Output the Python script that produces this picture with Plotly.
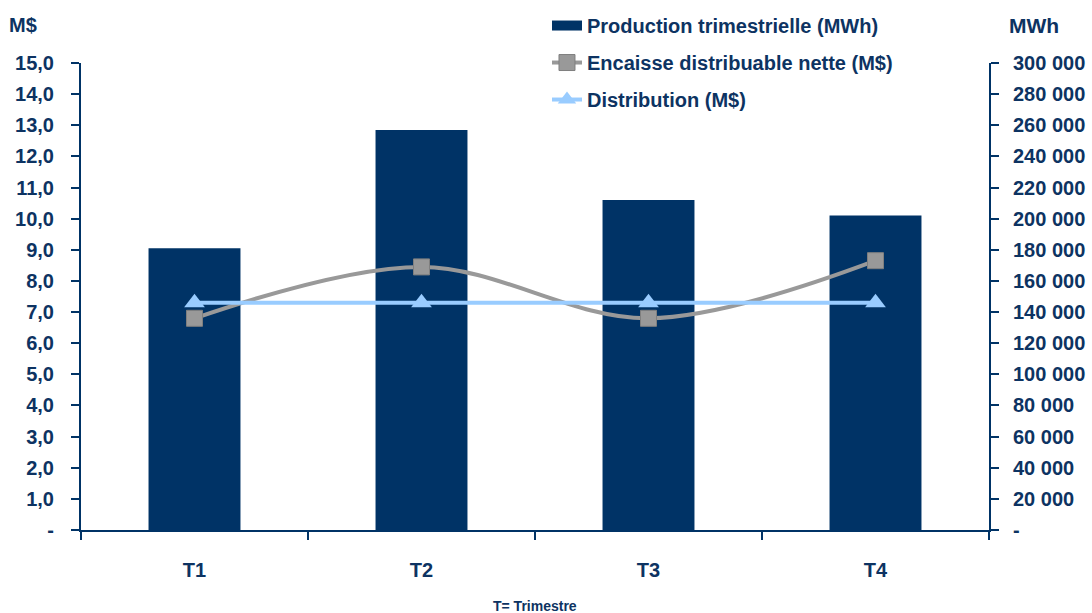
import plotly.graph_objects as go

categories = ["T1", "T2", "T3", "T4"]
production_mwh = [181000, 257000, 212000, 202000]
encaisse_md = [6.8, 8.45, 6.8, 8.65]
distribution_md = [7.3, 7.3, 7.3, 7.3]

left_tickvals = [i for i in range(0, 16)]
left_ticktext = ["-"] + [f"{i},0" for i in range(1, 16)]
right_tickvals = [i * 20000 for i in range(0, 16)]
right_ticktext = ["-"] + [f"{v // 1000} 000" for v in right_tickvals[1:]]

NAVY = "#003366"
TEXT = "#0D3362"
FONT = "Liberation Sans, Arial, sans-serif"

fig = go.Figure()

# bars on the base axis (right side, MWh) so that the lines draw on top
fig.add_trace(go.Bar(
    x=categories, y=production_mwh, yaxis="y", width=0.405,
    marker=dict(color=NAVY, line=dict(width=0)),
    name="Production trimestrielle (MWh)", showlegend=False,
))
# legend entry for bars (wide block symbol)
fig.add_trace(go.Scatter(
    x=[None], y=[None], yaxis="y2", mode="lines", line=dict(color=NAVY, width=14),
    name="Production trimestrielle (MWh)", legendgroup="a", legendrank=1,
))
fig.add_trace(go.Scatter(
    x=categories, y=encaisse_md, yaxis="y2", mode="lines+markers",
    line=dict(color="#999999", width=4, shape="spline", smoothing=1.0),
    marker=dict(symbol="square", size=16, color="#999999", line=dict(color="#7F7F7F", width=1)),
    name="Encaisse distribuable nette (M$)", legendgroup="b", legendrank=2,
))
fig.add_trace(go.Scatter(
    x=categories, y=distribution_md, yaxis="y2", mode="lines+markers",
    line=dict(color="#99CCFF", width=4),
    marker=dict(symbol="triangle-up", size=18, color="#99CCFF"),
    name="Distribution (M$)", legendgroup="c", legendrank=3,
))

tickfont = dict(family=FONT, size=20, color=TEXT, weight="bold")

fig.update_layout(
    width=1092, height=613,
    margin=dict(l=81, r=103, t=63, b=83, autoexpand=False),
    paper_bgcolor="white", plot_bgcolor="white",
    font=dict(family=FONT, color=TEXT, weight="bold"),
    separators=", ",
    xaxis=dict(
        type="category", range=[-0.5, 3.5], showline=True, linecolor=NAVY, linewidth=2,
        ticks="outside", tickson="boundaries", ticklen=8, tickcolor=NAVY, tickwidth=2,
        tickfont=tickfont, showgrid=False, zeroline=False, ticklabelstandoff=21,
        automargin=False,
    ),
    yaxis=dict(
        range=[0, 300000], tickvals=right_tickvals, ticktext=right_ticktext,
        side="right", showline=True, linecolor=NAVY, linewidth=2,
        ticks="outside", ticklen=8, tickcolor=NAVY, tickwidth=2, tickfont=tickfont,
        showgrid=False, zeroline=False, ticklabelstandoff=10, automargin=False,
    ),
    yaxis2=dict(
        range=[0, 15], tickvals=left_tickvals, ticktext=left_ticktext,
        overlaying="y", side="left",
        showline=True, linecolor=NAVY, linewidth=2, ticks="outside", ticklen=8,
        tickcolor=NAVY, tickwidth=2, tickfont=tickfont, showgrid=False, zeroline=False,
        ticklabelstandoff=13, automargin=False,
    ),
    legend=dict(
        x=0.5132, y=1.122, xanchor="left", yanchor="top", bgcolor="rgba(0,0,0,0)",
        font=dict(family=FONT, size=20, color=TEXT, weight="bold"),
        tracegroupgap=8, traceorder="grouped",
    ),
    annotations=[
        dict(text="M$", xref="paper", yref="paper", x=-0.081, y=1.081,
             xanchor="left", yanchor="middle", showarrow=False,
             font=dict(family=FONT, size=20, color=TEXT, weight="bold")),
        dict(text="MWh", xref="paper", yref="paper", x=1.0198, y=1.081,
             xanchor="left", yanchor="middle", showarrow=False,
             font=dict(family=FONT, size=21, color=TEXT, weight="bold")),
        dict(text="T= Trimestre", xref="paper", yref="paper", x=0.5, y=-0.163,
             xanchor="center", yanchor="middle", showarrow=False,
             font=dict(family=FONT, size=14, color=TEXT, weight="bold")),
    ],
)

fig.write_html("out.html")
